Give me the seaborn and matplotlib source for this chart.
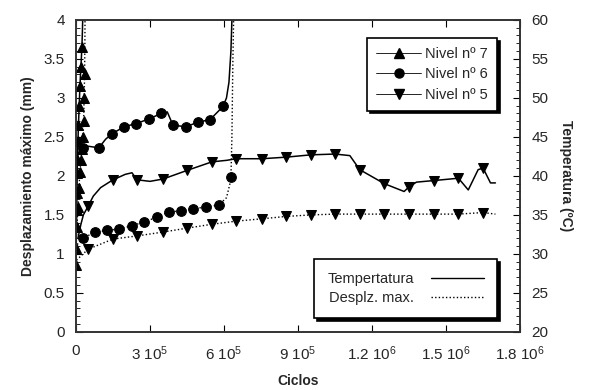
import matplotlib
matplotlib.use('Agg')
import matplotlib.pyplot as plt
from matplotlib.lines import Line2D
from matplotlib.ticker import MultipleLocator
import seaborn as sns

# values
# Nivel 7 (triangles up)
cyc7_t = [0, 1e3, 2e3, 3e3, 4e3, 5e3, 6e3, 8e3, 1.0e4, 1.3e4, 1.6e4, 2.0e4, 2.4e4, 2.6e4, 2.8e4]
temp7 = [28.6, 30.8, 33.5, 35.6, 37.8, 40.4, 42.2, 44.5, 46.5, 49.0, 51.5, 54.0, 56.5, 58.5, 61.0]
cyc7_d = [0, 4e3, 8e3, 1.2e4, 1.6e4, 2.0e4, 2.4e4, 2.8e4, 3.1e4, 3.3e4, 3.5e4, 3.6e4, 3.7e4]
desp7 = [1.10, 1.35, 1.60, 1.85, 2.05, 2.20, 2.35, 2.50, 2.70, 3.00, 3.30, 3.70, 4.20]

# Nivel 6 (circles)
cyc6_t = [1.5e4, 2.8e4, 5e4, 9.3e4, 1.2e5, 1.46e5, 1.95e5, 2.43e5, 2.96e5, 3.45e5, 3.7e5, 3.93e5,
          4.46e5, 4.95e5, 5.43e5, 5.96e5, 6.1e5, 6.2e5, 6.28e5, 6.33e5]
temp6 = [44.2, 43.6, 43.8, 43.6, 44.7, 45.4, 46.3, 46.7, 47.3, 48.0, 48.2, 46.5,
         46.3, 46.9, 47.2, 48.9, 50.0, 52.0, 56.0, 61.0]
cyc6_d = [5e3, 2.8e4, 7.7e4, 1.26e5, 1.74e5, 2.27e5, 2.76e5, 3.28e5, 3.77e5, 4.26e5, 4.74e5, 5.27e5,
          5.8e5, 6.1e5, 6.24e5, 6.28e5, 6.32e5, 6.36e5, 6.4e5]
desp6 = [1.12, 1.20, 1.28, 1.30, 1.32, 1.36, 1.41, 1.47, 1.54, 1.55, 1.58, 1.60,
         1.63, 1.72, 1.90, 1.98, 2.50, 3.50, 4.20]

# Nivel 5 (triangles down)
cyc5_t = [8e3, 2e4, 3e4, 4.9e4, 7e4, 1e5, 1.5e5, 2e5, 2.27e5, 2.47e5, 3.0e5, 3.53e5, 4.5e5, 5.51e5,
          6.12e5, 6.49e5, 7.54e5, 8.51e5, 9.53e5, 1.05e6, 1.11e6, 1.15e6, 1.25e6, 1.33e6, 1.35e6,
          1.38e6, 1.45e6, 1.55e6, 1.59e6, 1.63e6, 1.65e6, 1.68e6, 1.70e6]
temp5 = [32.0, 33.8, 35.0, 36.1, 37.4, 38.5, 39.5, 40.2, 40.4, 39.5, 39.3, 39.6, 40.7, 41.8,
         42.0, 42.2, 42.2, 42.4, 42.7, 42.8, 42.6, 40.8, 39.0, 38.0, 38.6,
         39.2, 39.4, 39.7, 38.2, 40.8, 41.0, 39.1, 39.1]
cyc5_d = [2e3, 4.9e4, 1.5e5, 2.47e5, 3.53e5, 4.5e5, 5.51e5, 6.5e5, 7.54e5, 8.51e5, 9.53e5, 1.05e6,
          1.15e6, 1.25e6, 1.35e6, 1.45e6, 1.55e6, 1.65e6, 1.70e6]
desp5 = [0.92, 1.06, 1.19, 1.23, 1.28, 1.33, 1.38, 1.42, 1.45, 1.48, 1.50, 1.51,
         1.51, 1.51, 1.51, 1.51, 1.51, 1.53, 1.51]

# which points carry a marker
mk7_t = list(range(0, 13))
mk7_d = list(range(1, 11))
mk6_t = [1, 3, 5, 6, 7, 8, 9, 11, 12, 13, 14, 15]
mk6_d = list(range(1, 13)) + [15]
mk5_t = [3, 6, 9, 11, 12, 13, 15, 16, 17, 18, 19, 21, 22, 24, 26, 27, 30]
mk5_d = list(range(1, 18))

x_ticks = [0, 3e5, 6e5, 9e5, 1.2e6, 1.5e6, 1.8e6]
x_labels = ['0', '3 10$^5$', '6 10$^5$', '9 10$^5$', '1.2 10$^6$', '1.5 10$^6$', '1.8 10$^6$']

sns.set_style("white")
plt.rcParams['font.family'] = ['Liberation Sans', 'DejaVu Sans']
plt.rcParams['mathtext.fontset'] = 'custom'
plt.rcParams['mathtext.rm'] = 'Liberation Sans'
plt.rcParams['mathtext.default'] = 'regular'

fig = plt.figure(figsize=(5.89, 3.90), dpi=100)
ax = fig.add_axes([0.129, 0.149, 0.754, 0.80])
ax2 = ax.twinx()

dots = (0, (1, 1.6))
common = dict(color='black', mec='black', mfc='black', estimator=None, sort=False, legend=False)


def draw(ax_, x, y, marker, mk, ls, ms):
  sns.lineplot(x=x, y=y, ax=ax_, marker=marker, markevery=mk, linestyle=ls,
               linewidth=1.1 if ls == '-' else 1.0, markersize=ms, **common)


# temperature (solid, right axis)
draw(ax2, cyc7_t, temp7, '^', mk7_t, '-', 7)
draw(ax2, cyc6_t, temp6, 'o', mk6_t, '-', 7)
draw(ax2, cyc5_t, temp5, 'v', mk5_t, '-', 7)
# displacement (dotted, left axis)
draw(ax, cyc7_d, desp7, '^', mk7_d, dots, 7)
draw(ax, cyc6_d, desp6, 'o', mk6_d, dots, 7)
draw(ax, cyc5_d, desp5, 'v', mk5_d, dots, 7)

ax.set_xlim(0, 1.8e6)
ax.set_ylim(0, 4)
ax2.set_ylim(20, 60)
ax.set_xticks(x_ticks, x_labels)
ax.yaxis.set_major_locator(MultipleLocator(0.5))
ax.yaxis.set_minor_locator(MultipleLocator(0.1))
ax2.yaxis.set_major_locator(MultipleLocator(5))
ax2.yaxis.set_minor_locator(MultipleLocator(1))
ax.yaxis.set_major_formatter(plt.FuncFormatter(lambda v, p: '%g' % v))

ax.tick_params(axis='x', which='major', direction='in', top=True, bottom=True, length=5,
               labelsize=11, pad=9, color='black')
ax.tick_params(axis='y', which='major', direction='in', left=True, right=False, length=5,
               labelsize=11, pad=8, color='black')
ax.tick_params(axis='y', which='minor', direction='in', left=True, right=False, length=3, color='black')
ax2.tick_params(axis='y', which='major', direction='in', right=True, length=5,
                labelsize=11, pad=8, color='black')
ax2.tick_params(axis='y', which='minor', direction='in', right=True, length=3, color='black')

for a in (ax, ax2):
  for s in a.spines.values():
    s.set_color('#333333')
    s.set_linewidth(1.2)

ax.set_xlabel('Ciclos', fontsize=10, fontweight='bold', labelpad=8)
ax.set_ylabel('Desplazamiento máximo (mm)', fontsize=10, fontweight='bold', labelpad=6)
ax2.set_ylabel('Temperatura (ºC)', fontsize=10, fontweight='bold', rotation=270, labelpad=18)

# legends
lvl_handles = [
  Line2D([], [], color='black', lw=0.6, marker='^', ms=6.5, label='Nivel nº 7'),
  Line2D([], [], color='black', lw=0.6, marker='o', ms=6.5, label='Nivel nº 6'),
  Line2D([], [], color='black', lw=0.6, marker='v', ms=6.5, label='Nivel nº 5'),
]
shadow = {'color': 'black', 'alpha': 1}
leg1 = ax2.legend(handles=lvl_handles, loc='upper right', bbox_to_anchor=(0.948, 0.942),
                  fontsize=10.5, handlelength=3.1, fancybox=False, shadow=shadow,
                  edgecolor='black', framealpha=1, borderpad=0.6, labelspacing=0.45,
                  handletextpad=0.3, borderaxespad=0)
leg1.get_frame().set_linewidth(1.2)
ax2.add_artist(leg1)

type_handles = [
  Line2D([], [], color='black', lw=1.0, ls='-', label='Tempertatura'),
  Line2D([], [], color='black', lw=1.0, ls=dots, label='Desplz. max.'),
]
leg2 = ax2.legend(handles=type_handles, loc='lower right', bbox_to_anchor=(0.948, 0.045),
                  fontsize=10.5, handlelength=3.6, fancybox=False, shadow=shadow,
                  edgecolor='black', framealpha=1, borderpad=0.9, labelspacing=0.3,
                  markerfirst=False, handletextpad=1.2, borderaxespad=0)
leg2.get_frame().set_linewidth(1.2)

fig.savefig('out.png', dpi=100)
